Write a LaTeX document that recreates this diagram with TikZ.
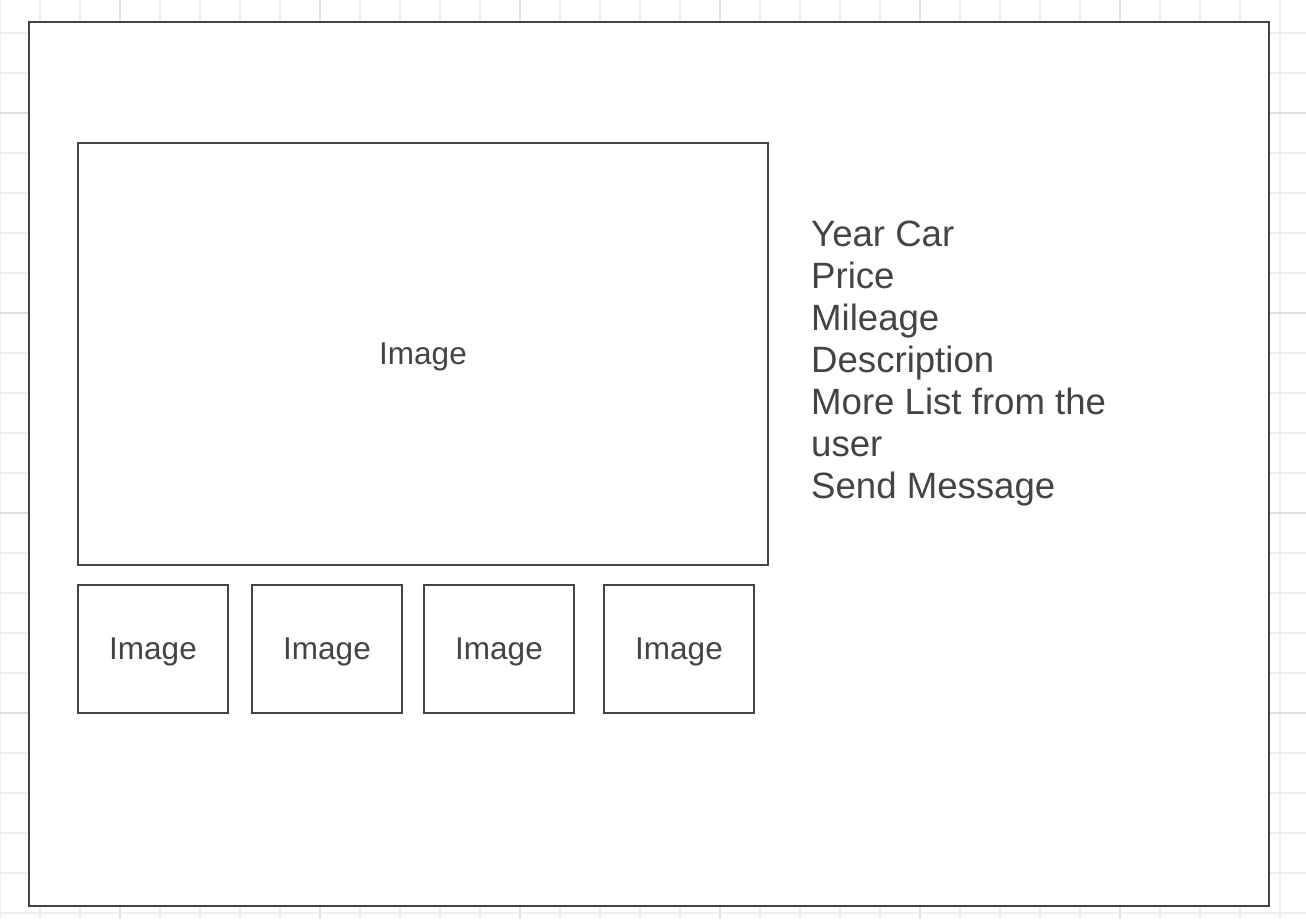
\documentclass[tikz,border=0pt]{standalone}
\usepackage{fontspec}
\setmainfont{Liberation Sans}
\usetikzlibrary{positioning}
\definecolor{ink}{HTML}{444444}
\definecolor{gridminor}{HTML}{EFEFEF}
\definecolor{gridmajor}{HTML}{E0E0E0}
\tikzset{
  imgbox/.style={draw=ink, line width=2pt, fill=white, text=ink,
    font=\fontsize{31.5}{37}\selectfont, text depth=0pt, inner sep=0pt},
  gridline/.style={line width=1.2pt},
}

\begin{document}
\begin{tikzpicture}[x=1pt,y=-1pt]
      \useasboundingbox (0,0) rectangle (1306,919);
      \fill[white] (0,0) rectangle (1306,919);

      % background grid
      \foreach \gx in {0,40,...,1280}
        \draw[gridline, gridminor] (\gx,0) -- (\gx,919);
      \foreach \gy in {33,73,...,913}
        \draw[gridline, gridminor] (0,\gy) -- (1306,\gy);
      \foreach \gx in {120,320,...,1120}
        \draw[gridline, gridmajor] (\gx,0) -- (\gx,919);
      \foreach \gy in {113,313,513,713}
        \draw[gridline, gridmajor] (0,\gy) -- (1306,\gy);

      % page frame
      \node[imgbox, minimum width=1240, minimum height=884, anchor=north west] (page) at (28,21) {};

      % images
      \node[imgbox, minimum width=690, minimum height=422] (mainimg) at (423,354) {Image};
      \foreach \tx/\tn in {153/thumbA, 327/thumbB, 499/thumbC, 679/thumbD}
        \node[imgbox, minimum width=150, minimum height=128] (\tn) at (\tx,649) {Image};

      % listing details (base = last line)
      \node[text=ink, font=\fontsize{36.6}{42}\selectfont, align=left, anchor=base west, inner sep=0pt] (details) at (811,498)
        {Year Car\\Price\\Mileage\\Description\\More List from the\\user\\Send Message};
    \end{tikzpicture}
\end{document}
